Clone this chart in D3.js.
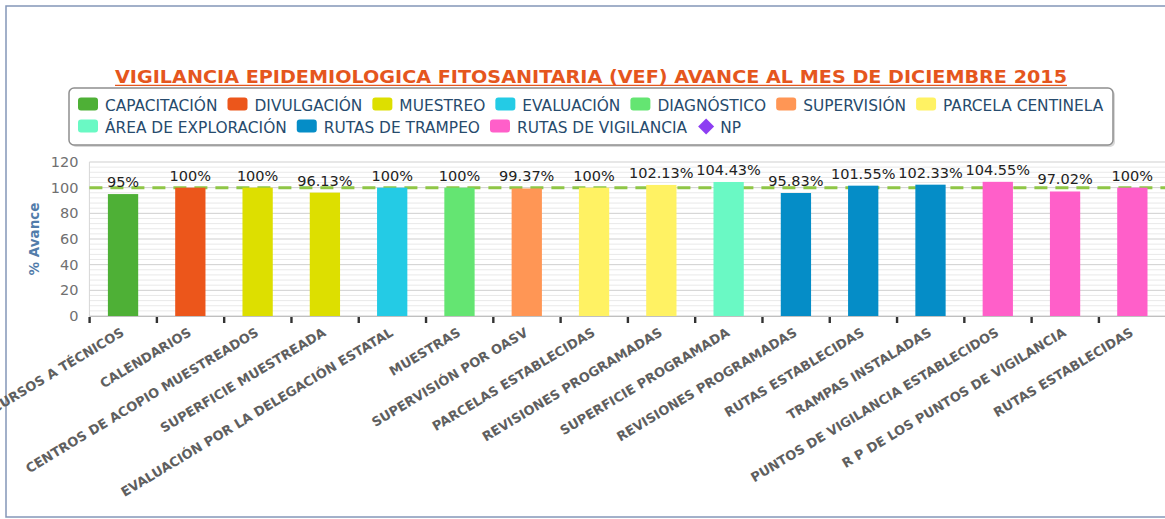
<!DOCTYPE html>
<meta charset="utf-8">
<head>
	<title>VEF avance diciembre 2015</title>
</head>

<style>
body{
	margin: 0;
	background: #fff;
}
svg{
	display: block;
	font-family: "DejaVu Sans", Verdana, sans-serif;
}
</style>

<body>
<svg id="chart" width="1165" height="519"></svg>

<script src="https://cdnjs.cloudflare.com/ajax/libs/d3/7.8.5/d3.min.js"></script>
<script>

var titulo = 'VIGILANCIA EPIDEMIOLOGICA FITOSANITARIA (VEF) AVANCE AL MES DE DICIEMBRE 2015';

var categorias = ['CURSOS A TÉCNICOS', 'CALENDARIOS', 'CENTROS DE ACOPIO MUESTREADOS', 'SUPERFICIE MUESTREADA',
	'EVALUACIÓN POR LA DELEGACIÓN ESTATAL', 'MUESTRAS', 'SUPERVISIÓN POR OASV', 'PARCELAS ESTABLECIDAS',
	'REVISIONES PROGRAMADAS', 'SUPERFICIE PROGRAMADA', 'REVISIONES PROGRAMADAS', 'RUTAS ESTABLECIDAS',
	'TRAMPAS INSTALADAS', 'PUNTOS DE VIGILANCIA ESTABLECIDOS', 'R P DE LOS PUNTOS DE VIGILANCIA', 'RUTAS ESTABLECIDAS'];

var avance = [95, 100, 100, 96.13, 100, 100, 99.37, 100, 102.13, 104.43, 95.83, 101.55, 102.33, 104.55, 97.02, 100];

var etiquetas = ['95%', '100%', '100%', '96.13%', '100%', '100%', '99.37%', '100%', '102.13%', '104.43%',
	'95.83%', '101.55%', '102.33%', '104.55%', '97.02%', '100%'];

// serie a la que pertenece cada barra
var serie_de = [0, 1, 2, 2, 3, 4, 5, 6, 6, 7, 8, 8, 8, 9, 9, 9];

var series = ['CAPACITACIÓN', 'DIVULGACIÓN', 'MUESTREO', 'EVALUACIÓN', 'DIAGNÓSTICO', 'SUPERVISIÓN',
	'PARCELA CENTINELA', 'ÁREA DE EXPLORACIÓN', 'RUTAS DE TRAMPEO', 'RUTAS DE VIGILANCIA', 'NP'];

var colores = ['#4EB036', '#EC561B', '#DDDF00', '#24CBE5', '#64E572', '#FF9655', '#FFF263', '#6AF9C4',
	'#058DC7', '#FF5FC9', '#8D3EF2'];

var meta_np = 100;
var y_ticks = [0, 20, 40, 60, 80, 100, 120];


var svg = d3.select('#chart');

// marco exterior
svg.append('rect')
	.attr('x', 6).attr('y', 6)
	.attr('width', 1190).attr('height', 511)
	.attr('fill', '#fff')
	.attr('stroke', '#8497B8')
	.attr('stroke-width', 1.5);

// titulo
svg.append('text')
	.attr('x', 591).attr('y', 83)
	.attr('text-anchor', 'middle')
	.attr('fill', '#E5561D')
	.attr('font-weight', 'bold')
	.attr('font-size', 17.5)
	.attr('textLength', 952)
	.attr('lengthAdjust', 'spacingAndGlyphs')
	.text(titulo);

svg.append('line')
	.attr('x1', 115).attr('x2', 1067)
	.attr('y1', 85.3).attr('y2', 85.3)
	.attr('stroke', '#E5561D')
	.attr('stroke-width', 1.2);

// leyenda
var leg_box = svg.append('g');
leg_box.append('rect')
	.attr('x', 71).attr('y', 90)
	.attr('width', 1044).attr('height', 57)
	.attr('rx', 5)
	.attr('fill', '#d8d8d8');
leg_box.append('rect')
	.attr('x', 69).attr('y', 88)
	.attr('width', 1044).attr('height', 57)
	.attr('rx', 5)
	.attr('fill', '#fff')
	.attr('stroke', '#8f8f8f')
	.attr('stroke-width', 1.5);

var leg = svg.append('g');
var lx = 78, ly = 110.5, fila_max = 1110;
series.forEach(function(nombre, i){
	var item = leg.append('g');
	var txt = item.append('text')
		.attr('font-size', 15.4)
		.attr('fill', '#274B6D')
		.text(nombre);
	var w = txt.node().getComputedTextLength();
	if(lx + 27 + w > fila_max){
		lx = 78;
		ly += 22;
	}
	txt.attr('x', lx + 27).attr('y', ly);
	if(nombre == 'NP'){
		// rombo del NP
		var cx = lx + 9, cy = ly - 6, r = 8;
		item.append('path')
			.attr('d', 'M' + cx + ',' + (cy - r) + 'L' + (cx + r) + ',' + cy + 'L' + cx + ',' + (cy + r) + 'L' + (cx - r) + ',' + cy + 'Z')
			.attr('fill', colores[i]);
		txt.attr('x', lx + 23);
	}else{
		item.append('rect')
			.attr('x', lx).attr('y', ly - 13)
			.attr('width', 20).attr('height', 13)
			.attr('rx', 3)
			.attr('fill', colores[i]);
	}
	lx += 27 + w + 10;
});

// area de grafica
var x = d3.scaleBand()
	.domain(d3.range(categorias.length))
	.range([89.4, 1166])
	.paddingInner(0.55)
	.paddingOuter(0.275);

var y = d3.scaleLinear()
	.domain([0, 120])
	.range([316, 162]);

var plot = svg.append('g');

// lineas menores
plot.selectAll('.minor')
	.data(d3.range(0, 121, 4).filter(function(d){ return d % 20 != 0; }))
	.enter()
	.append('line')
	.attr('x1', x.range()[0]).attr('x2', x.range()[1])
	.attr('y1', function(d){ return y(d); })
	.attr('y2', function(d){ return y(d); })
	.attr('stroke', '#e9e9e9')
	.attr('stroke-width', 1);

// lineas mayores
plot.selectAll('.major')
	.data(y_ticks)
	.enter()
	.append('line')
	.attr('x1', x.range()[0]).attr('x2', x.range()[1])
	.attr('y1', function(d){ return y(d); })
	.attr('y2', function(d){ return y(d); })
	.attr('stroke', '#cfcfcf')
	.attr('stroke-width', 1);

plot.append('line')
	.attr('x1', x.range()[0]).attr('x2', x.range()[0])
	.attr('y1', y(120)).attr('y2', y(0))
	.attr('stroke', '#d6d6d6');

// etiquetas eje y
var yAxis = d3.axisLeft(y).tickValues(y_ticks).tickSize(0).tickPadding(11);
svg.append('g')
	.attr('transform', 'translate(89.4,0)')
	.call(yAxis)
	.call(function(g){ g.select('.domain').remove(); })
	.selectAll('text')
	.attr('font-family', '"DejaVu Sans", Verdana, sans-serif')
	.attr('font-size', 14.5)
	.attr('fill', '#707070');

svg.append('text')
	.attr('transform', 'translate(39,' + y(60) + ') rotate(-90)')
	.attr('text-anchor', 'middle')
	.attr('font-size', 13.5)
	.attr('font-weight', 'bold')
	.attr('fill', '#527CAA')
	.text('% Avance');

// linea NP al 100
plot.append('line')
	.attr('x1', x.range()[0]).attr('x2', x.range()[1])
	.attr('y1', y(meta_np)).attr('y2', y(meta_np))
	.attr('stroke', '#8FC646')
	.attr('stroke-width', 3)
	.attr('stroke-dasharray', '13,8');

// barras
plot.selectAll('.bar')
	.data(avance)
	.enter()
	.append('rect')
	.attr('x', function(d, i){ return x(i); })
	.attr('width', x.bandwidth())
	.attr('y', function(d){ return y(d); })
	.attr('height', function(d){ return y(0) - y(d); })
	.attr('fill', function(d, i){ return colores[serie_de[i]]; });

// etiquetas de valor
plot.selectAll('.val')
	.data(avance)
	.enter()
	.append('text')
	.attr('x', function(d, i){ return x(i) + x.bandwidth() / 2; })
	.attr('y', function(d){ return y(d) - 7; })
	.attr('text-anchor', 'middle')
	.attr('font-size', 14.5)
	.attr('fill', '#222')
	.text(function(d, i){ return etiquetas[i]; });

// eje x
plot.append('line')
	.attr('x1', x.range()[0]).attr('x2', x.range()[1])
	.attr('y1', 316.5).attr('y2', 316.5)
	.attr('stroke', '#c0c0c0');

var bordes = d3.range(categorias.length + 1).map(function(i){
	return x.range()[0] + i * x.step();
});
plot.selectAll('.tick_x')
	.data(bordes)
	.enter()
	.append('rect')
	.attr('x', function(d){ return d - 1; })
	.attr('y', 317)
	.attr('width', 2.4)
	.attr('height', 6)
	.attr('fill', '#333');

plot.selectAll('.cat')
	.data(categorias)
	.enter()
	.append('text')
	.attr('transform', function(d, i){
		return 'translate(' + (x(i) + x.bandwidth() / 2 + 2) + ',335) rotate(-31)';
	})
	.attr('text-anchor', 'end')
	.attr('font-size', 13)
	.attr('font-weight', 'bold')
	.attr('fill', '#5f5f5f')
	.text(function(d){ return d; });

</script>
</body>
</html>
